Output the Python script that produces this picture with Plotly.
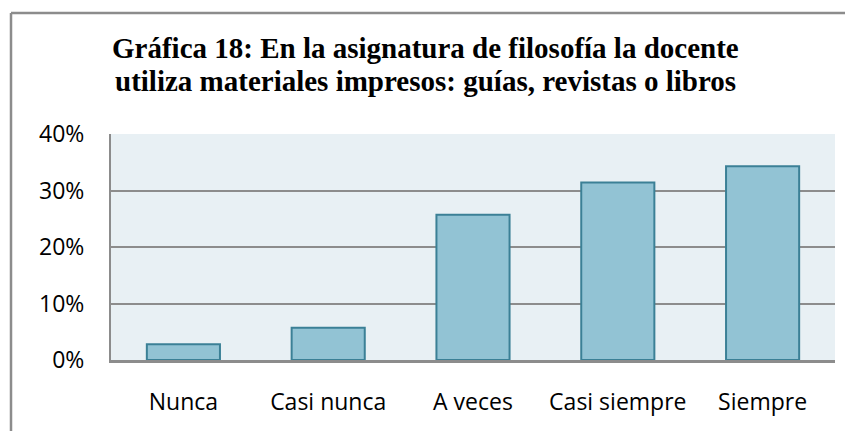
import plotly.graph_objects as go

categories = ["Nunca", "Casi nunca", "A veces", "Casi siempre", "Siempre"]
values = [0.028, 0.057, 0.257, 0.314, 0.343]
title_lines = ["Gráfica 18: En la asignatura de filosofía la docente",
               "utiliza materiales impresos: guías, revistas o libros"]

OFF = 8  # page body margin
W, H = 853 - 2 * OFF, 439 - 2 * OFF
# target screen coordinates of plot area
SX0, SX1, SY0, SY1 = 111, 835, 134, 360
L, T = SX0 - OFF, SY0 - OFF
R = W - (SX1 - OFF)
B = H - (SY1 - OFF)
pw = SX1 - SX0
ph = SY1 - SY0

def px_x(x):
    return (x - SX0) / pw

def px_y(y):
    return (SY1 - y) / ph

fig = go.Figure(go.Bar(
    x=categories, y=values,
    marker=dict(color="#92c3d4", line=dict(color="#3b8096", width=2)),
))

fig.update_layout(
    width=W, height=H,
    margin=dict(l=L, r=R, t=T, b=B, pad=0),
    paper_bgcolor="white", plot_bgcolor="#e8f0f4",
    bargap=0.495, showlegend=False,
    font=dict(family="Open Sans", size=23, color="#000000"),
)
fig.update_yaxes(range=[0, 0.4], dtick=0.1, tickformat=".0%",
                 showgrid=True, gridcolor="#8c8c8c", gridwidth=1.5,
                 showline=True, linecolor="#8c8c8c", linewidth=2,
                 zeroline=False, ticks="", ticklabelstandoff=20,
                 tickfont=dict(family="Open Sans", size=23, color="#000"))
fig.update_xaxes(showline=True, linecolor="#8c8c8c", linewidth=2.5,
                 ticks="", ticklabelstandoff=20,
                 tickfont=dict(family="Open Sans", size=23, color="#000"))

for line, ymid in zip(title_lines, [48, 81]):
    fig.add_annotation(
        text="<b>" + line + "</b>", showarrow=False,
        xref="paper", yref="paper", x=px_x(425), y=px_y(ymid),
        xanchor="center", yanchor="middle", align="center",
        font=dict(family="Liberation Serif", size=29, color="#000"),
    )

border = dict(color="#8c8c8c", width=2.5)
fig.add_shape(type="line", xref="paper", yref="paper",
              x0=px_x(11), x1=px_x(11), y0=px_y(13), y1=px_y(450), line=border)
fig.add_shape(type="line", xref="paper", yref="paper",
              x0=px_x(11), x1=px_x(870), y0=px_y(13), y1=px_y(13), line=border)

fig.write_html("out.html", config={"displayModeBar": False})
